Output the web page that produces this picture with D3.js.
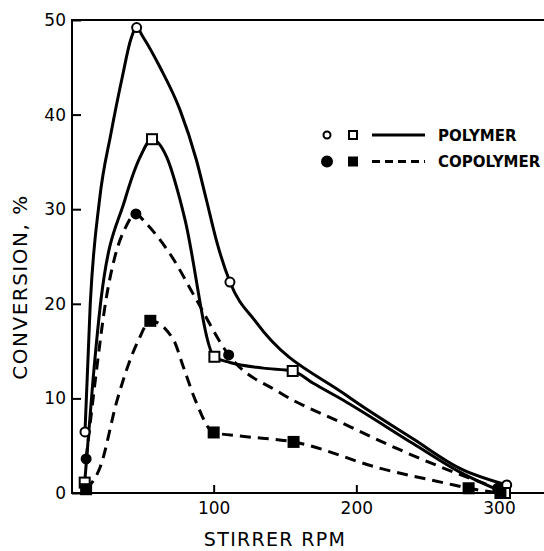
<!DOCTYPE html>
<html>
<head>
<meta charset="utf-8">
<script src="https://cdn.jsdelivr.net/npm/d3@7"></script>
<style>
  body { margin: 0; background: #fff; }
  text { font-family: "DejaVu Sans", sans-serif; fill: #000; }
</style>
</head>
<body>
<div id="chart"></div>
<script>
// data: [rpm, conversion %]
var polymerCircles = [[9.8, 6.45], [46, 49.2], [111.4, 22.3], [305.4, 0.85]];
var polymerSquares = [[9.6, 1.1], [56.8, 37.4], [100.5, 14.4], [155.4, 12.9], [304.2, 0]];
var copolyCircles = [[10.6, 3.6], [45.5, 29.5], [110.5, 14.6], [299, 0.5]];
var copolySquares = [[10.6, 0.4], [55.6, 18.2], [100, 6.4], [156, 5.4], [278.7, 0.5], [301, 0]];

// curves
var polymerCircleCurve = [[9.8, 6.45], [13.5, 20], [20, 31], [28, 38], [36, 44], [42, 48], [46, 49.2],
  [50.5, 48.2], [62.4, 45], [76.4, 40.5], [87.9, 35.2], [94.9, 31], [101.9, 26.7], [111.4, 22.3],
  [130, 18.0], [193.2, 10.3], [240, 5.7], [272.6, 2.6], [305.4, 0.85]];
var polymerSquareCurve = [[9.6, 1.1], [15.4, 11.9], [21, 20.4], [37.8, 31], [48.4, 35.5], [56.8, 37.4],
  [67.1, 35.5], [76.4, 31], [79.9, 28.9], [100.5, 14.4], [111.4, 13.8], [134.8, 13.2], [155.4, 12.9],
  [169.8, 11.6], [193.2, 9.6], [240, 5.2], [272.6, 2.2], [304.2, 0]];
var copolyCircleCurve = [[10.6, 3.6], [17.5, 12.5], [24.5, 20.4], [30.8, 25], [38, 28], [45.5, 29.5],
  [52, 28.6], [70.6, 25], [88, 20.4], [110.5, 14.6], [146.5, 10.6], [190, 7.4], [230, 4.6],
  [265, 2.4], [299, 0.5]];
var copolySquareCurve = [[10.6, 0.4], [20.6, 2.8], [32.3, 9.8], [47.4, 16.2], [55.6, 18.2], [71.8, 16.2],
  [78.7, 13.35], [87.2, 9.8], [100, 6.4], [120, 6.0], [156, 5.4], [216.9, 2.6], [263.6, 1.0],
  [278.7, 0.5], [301, 0]];

var xTicks = [100, 200, 300];
var yTicks = [0, 10, 20, 30, 40, 50];

var svgWidth = 544;
var svgHeight = 551;

var svg = d3.select("#chart")
  .append("svg")
  .attr("width", svgWidth)
  .attr("height", svgHeight);

var x = d3.scaleLinear().domain([0, 300]).range([71, 499]);
var y = d3.scaleLinear().domain([0, 50]).range([493, 20]);

// frame: left, bottom, top
svg.append("line").attr("x1", 72).attr("x2", 72).attr("y1", y(50)).attr("y2", y(0))
  .attr("stroke", "#000").attr("stroke-width", 2);
svg.append("line").attr("x1", 71).attr("x2", svgWidth).attr("y1", y(0)).attr("y2", y(0))
  .attr("stroke", "#000").attr("stroke-width", 2);
svg.append("line").attr("x1", 71).attr("x2", svgWidth).attr("y1", y(50)).attr("y2", y(50))
  .attr("stroke", "#000").attr("stroke-width", 2);

// axes with inward ticks
var bottomAxis = d3.axisBottom(x).tickValues(xTicks).tickSize(-8).tickPadding(9);
var leftAxis = d3.axisLeft(y).tickValues(yTicks).tickSize(-9).tickPadding(6);

var gx = svg.append("g").attr("transform", `translate(0, ${y(0)})`).call(bottomAxis);
var gy = svg.append("g").attr("transform", "translate(72, 0)").call(leftAxis);
[gx, gy].forEach(function(g) {
  g.select(".domain").remove();
  g.selectAll(".tick line").attr("stroke", "#000").attr("stroke-width", 2);
  g.selectAll(".tick text").style("font-size", "17px").attr("fill", "#000")
    .style("font-family", "'DejaVu Sans', sans-serif");
});

// axis labels
svg.append("text")
  .attr("x", 275).attr("y", 546)
  .attr("text-anchor", "middle")
  .style("font-size", "19px")
  .style("letter-spacing", "1.3px")
  .text("STIRRER  RPM");

svg.append("text")
  .attr("transform", "translate(27, 287) rotate(-90)")
  .attr("text-anchor", "middle")
  .style("font-size", "20px")
  .style("letter-spacing", "1.5px")
  .text("CONVERSION,  %");

// curves
var line = d3.line()
  .x(d => x(d[0]))
  .y(d => y(d[1]))
  .curve(d3.curveMonotoneX);

var curves = [
  { pts: polymerCircleCurve, dash: null },
  { pts: polymerSquareCurve, dash: null },
  { pts: copolyCircleCurve, dash: "11,7" },
  { pts: copolySquareCurve, dash: "11,7" }
];

svg.selectAll("path.curve")
  .data(curves)
  .enter()
  .append("path")
  .attr("class", "curve")
  .attr("d", d => line(d.pts))
  .attr("fill", "none")
  .attr("stroke", "#000")
  .attr("stroke-width", 3)
  .attr("stroke-dasharray", d => d.dash);

// markers
function circles(data, fill) {
  svg.append("g").selectAll("circle")
    .data(data)
    .enter()
    .append("circle")
    .attr("cx", d => x(d[0]))
    .attr("cy", d => y(d[1]))
    .attr("r", 4.5)
    .attr("fill", fill)
    .attr("stroke", "#000")
    .attr("stroke-width", 2);
}
function squares(data, fill) {
  svg.append("g").selectAll("rect")
    .data(data)
    .enter()
    .append("rect")
    .attr("x", d => x(d[0]) - 5)
    .attr("y", d => y(d[1]) - 5)
    .attr("width", 10)
    .attr("height", 10)
    .attr("fill", fill)
    .attr("stroke", "#000")
    .attr("stroke-width", 2);
}
circles(polymerCircles, "#fff");
squares(polymerSquares, "#fff");
circles(copolyCircles, "#000");
squares(copolySquares, "#000");

// legend
var legend = svg.append("g");
var rows = [
  { label: "POLYMER", fill: "#fff", dash: null, yy: 135 },
  { label: "COPOLYMER", fill: "#000", dash: "8,5", yy: 161.5 }
];
rows.forEach(function(r) {
  legend.append("circle").attr("cx", 327).attr("cy", r.yy).attr("r", r.fill == "#fff" ? 3.5 : 5)
    .attr("fill", r.fill).attr("stroke", "#000").attr("stroke-width", 2);
  legend.append("rect").attr("x", 349).attr("y", r.yy - 4).attr("width", 8).attr("height", 8)
    .attr("fill", r.fill).attr("stroke", "#000").attr("stroke-width", 2);
  legend.append("line").attr("x1", 372).attr("x2", 425).attr("y1", r.yy).attr("y2", r.yy)
    .attr("stroke", "#000").attr("stroke-width", 3).attr("stroke-dasharray", r.dash);
  legend.append("text").attr("x", 438).attr("y", r.yy + 5.5)
    .style("font-size", "15px").style("font-weight", "bold")
    .text(r.label);
});
</script>
</body>
</html>
